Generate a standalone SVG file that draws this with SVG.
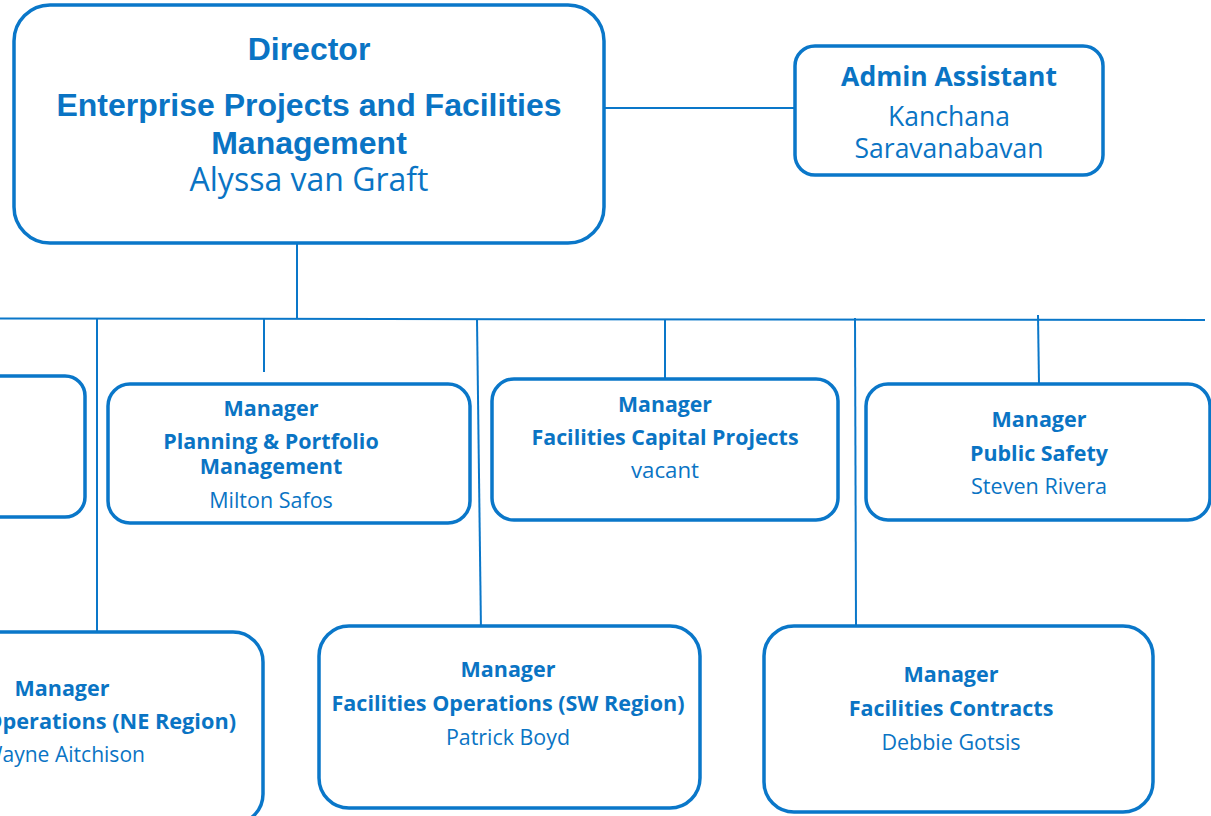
<svg xmlns="http://www.w3.org/2000/svg" width="1211" height="816" viewBox="0 0 1211 816">
<style>
.box{fill:#fff;stroke:#0A77C9;stroke-width:3.5}
.ln{stroke:#0A77C9;stroke-width:2;fill:none}
text{fill:#0A74C4;text-anchor:middle}
.dh{font-family:"Liberation Sans",Arial,sans-serif;font-weight:bold;font-size:32px}
.dn{font-family:"Open Sans","Noto Sans",sans-serif;font-size:32px}
.ah{font-family:"Open Sans","Noto Sans",sans-serif;font-weight:bold;font-size:26.5px}
.an{font-family:"Open Sans","Noto Sans",sans-serif;font-size:26.5px}
.mh{font-family:"Open Sans","Noto Sans",sans-serif;font-weight:bold;font-size:21.5px}
.mn{font-family:"Open Sans","Noto Sans",sans-serif;font-size:21.5px}
</style>
<rect width="1211" height="816" fill="#fff"/>
<g id="connectors">
<line class="ln" x1="604" y1="108" x2="795" y2="108"/>
<line class="ln" x1="297" y1="243" x2="297" y2="319"/>
<line class="ln" x1="0" y1="318.5" x2="1205" y2="320"/>
<line class="ln" x1="97" y1="319" x2="97" y2="632"/>
<line class="ln" x1="264" y1="319" x2="264" y2="372"/>
<line class="ln" x1="477" y1="319" x2="481" y2="632"/>
<line class="ln" x1="665" y1="319" x2="665" y2="379"/>
<line class="ln" x1="855" y1="318" x2="856" y2="626"/>
<line class="ln" x1="1038" y1="315" x2="1039" y2="384"/>
</g>
<g id="director">
<rect class="box" x="14" y="5" width="590" height="238" rx="36"/>
<text class="dh" x="309" y="60">Director</text>
<text class="dh" x="309" y="116">Enterprise Projects and Facilities</text>
<text class="dh" x="309" y="154">Management</text>
<text class="dn" x="309" y="191">Alyssa van Graft</text>
</g>
<g id="admin">
<rect class="box" x="795" y="46" width="308" height="129" rx="20"/>
<text class="ah" x="949" y="86">Admin Assistant</text>
<text class="an" x="949" y="126">Kanchana</text>
<text class="an" x="949" y="158">Saravanabavan</text>
</g>
<g id="left-partial">
<rect class="box" x="-60" y="376" width="145" height="141" rx="20"/>
</g>
<g id="planning">
<rect class="box" x="108" y="384" width="362" height="139" rx="22"/>
<text class="mh" x="271" y="416">Manager</text>
<text class="mh" x="271" y="449">Planning &amp; Portfolio</text>
<text class="mh" x="271" y="474">Management</text>
<text class="mn" x="271" y="508">Milton Safos</text>
</g>
<g id="capital">
<rect class="box" x="492" y="379" width="346" height="141" rx="22"/>
<text class="mh" x="665" y="412" textLength="94" lengthAdjust="spacingAndGlyphs">Manager</text>
<text class="mh" x="665" y="445" textLength="267" lengthAdjust="spacingAndGlyphs">Facilities Capital Projects</text>
<text class="mn" x="665" y="478" textLength="68" lengthAdjust="spacingAndGlyphs">vacant</text>
</g>
<g id="safety">
<rect class="box" x="866" y="384" width="344" height="136" rx="22"/>
<text class="mh" x="1039" y="427" textLength="95" lengthAdjust="spacingAndGlyphs">Manager</text>
<text class="mh" x="1039" y="461" textLength="138" lengthAdjust="spacingAndGlyphs">Public Safety</text>
<text class="mn" x="1039" y="494" textLength="136" lengthAdjust="spacingAndGlyphs">Steven Rivera</text>
</g>
<g id="ne">
<rect class="box" x="-130" y="632" width="393" height="192" rx="30"/>
<text class="mh" x="62" y="696" textLength="95" lengthAdjust="spacingAndGlyphs">Manager</text>
<text class="mh" x="60" y="729" textLength="352" lengthAdjust="spacingAndGlyphs">Facilities Operations (NE Region)</text>
<text class="mn" x="64" y="762" textLength="162" lengthAdjust="spacingAndGlyphs">Wayne Aitchison</text>
</g>
<g id="sw">
<rect class="box" x="319" y="626" width="381" height="182" rx="30"/>
<text class="mh" x="508" y="677" textLength="95" lengthAdjust="spacingAndGlyphs">Manager</text>
<text class="mh" x="508" y="711" textLength="353" lengthAdjust="spacingAndGlyphs">Facilities Operations (SW Region)</text>
<text class="mn" x="508" y="745" textLength="124" lengthAdjust="spacingAndGlyphs">Patrick Boyd</text>
</g>
<g id="contracts">
<rect class="box" x="764" y="626" width="389" height="186" rx="30"/>
<text class="mh" x="951" y="682">Manager</text>
<text class="mh" x="951" y="716">Facilities Contracts</text>
<text class="mn" x="951" y="750">Debbie Gotsis</text>
</g>
</svg>
